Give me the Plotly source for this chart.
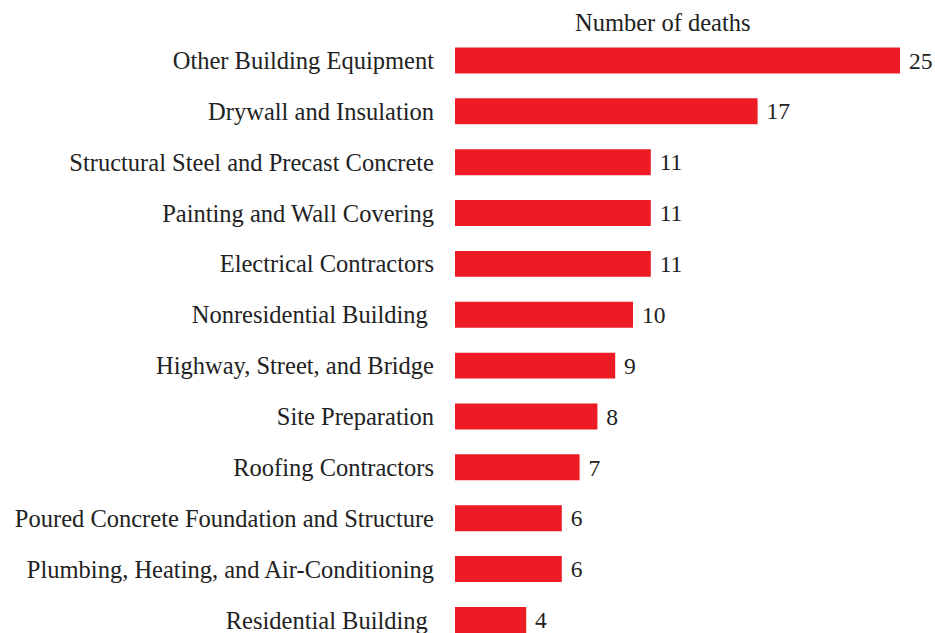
import plotly.graph_objects as go

categories = [
    "Other Building Equipment",
    "Drywall and Insulation",
    "Structural Steel and Precast Concrete",
    "Painting and Wall Covering",
    "Electrical Contractors",
    "Nonresidential Building\u00a0",
    "Highway, Street, and Bridge",
    "Site Preparation",
    "Roofing Contractors",
    "Poured Concrete Foundation and Structure",
    "Plumbing, Heating, and Air-Conditioning",
    "Residential Building\u00a0",
]
deaths = [25, 17, 11, 11, 11, 10, 9, 8, 7, 6, 6, 4]

FONT = "Liberation Serif, Times New Roman, serif"
FS = 24.5

fig = go.Figure(go.Bar(
    x=deaths,
    y=categories,
    orientation="h",
    marker=dict(color="#ED1C24", line=dict(width=0)),
    text=["\u00a0" + str(v) for v in deaths],
    textposition="outside",
    textfont=dict(family=FONT, size=FS, color="#222222"),
    cliponaxis=False,
))

fig.update_layout(
    width=935, height=633,
    margin=dict(l=455, r=35, t=34.5, b=0),
    paper_bgcolor="white", plot_bgcolor="white",
    bargap=0.49,
    showlegend=False,
    font=dict(family=FONT, size=FS, color="#222222"),
    xaxis=dict(range=[0, 25], visible=False, showgrid=False, zeroline=False),
    yaxis=dict(
        type="category",
        range=[11.257, -0.5],
        showgrid=False, zeroline=False, showline=False,
        ticks="", ticklabelstandoff=20,
        tickfont=dict(family=FONT, size=FS, color="#222222"),
    ),
    annotations=[dict(
        text="Number of deaths", xref="paper", yref="paper",
        x=0.467, y=1, xanchor="center", yanchor="bottom", yshift=-3,
        showarrow=False, font=dict(family=FONT, size=FS, color="#222222"),
    )],
)

fig.write_html(
    "out.html",
    config={"displayModeBar": False},
    post_script="document.body.style.margin='0';document.body.style.overflow='hidden';",
)
